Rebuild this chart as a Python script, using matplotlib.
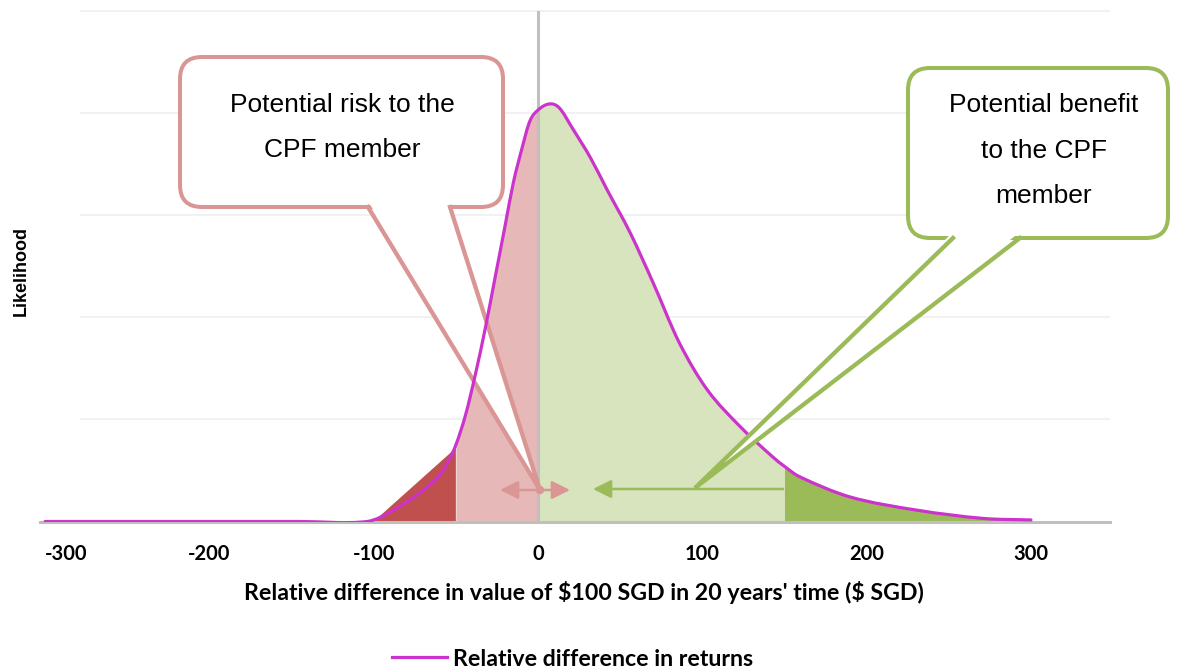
import numpy as np
import matplotlib.pyplot as plt
import matplotlib.transforms as mtransforms
from matplotlib.patches import FancyBboxPatch, Polygon, FancyArrowPatch, Circle, PathPatch
from matplotlib.path import Path
from matplotlib.lines import Line2D

# relative difference ($ SGD) and likelihood
diff = np.array([-300, -145, -104, -88, -72, -60, -55, -50, -44, -38, -32, -26, -20, -15,
                 -10, -5, 0, 7, 13, 21, 32, 42, 56, 70, 86, 103, 123, 143, 150, 159,
                 190, 231, 271, 300])
likelihood = np.array([0, 0, 0, 0.11, 0.28, 0.45, 0.58, 0.75, 1.05, 1.45, 1.90, 2.40, 2.90,
                       3.32, 3.64, 3.92, 4.03, 4.09, 4.05, 3.85, 3.56, 3.25, 2.83, 2.34,
                       1.75, 1.29, 0.93, 0.63, 0.54, 0.44, 0.24, 0.11, 0.03, 0.015])

# dark red wedge in the left tail
tail_x = [-100, -50, -50]
tail_y = [0, 0.72, 0]

ticks = [-300, -200, -100, 0, 100, 200, 300]
tick_labels = ["-300", "-200", "-100", "0", "100", "200", "300"]

magenta = "#cc33cc"
pink_line = "#d99694"
green_line = "#9bbb59"

fig = plt.figure(figsize=(11.82, 6.70), dpi=100)
ax = fig.add_axes([40 / 1182, 148.5 / 670, 1070 / 1182, 510.5 / 670])
ax.set_xlim(-303.1, 348.1)
ax.set_ylim(0, 5)

for s in ["top", "right", "left"]:
    ax.spines[s].set_visible(False)
ax.spines["bottom"].set_color("#bfbfbf")
ax.spines["bottom"].set_linewidth(2.2)
ax.set_yticks([])

ax.hlines([1, 2, 3, 4, 5], -279, 348, color="#efefef", lw=1.2, zorder=0, clip_on=False)

# shaded regions under the curve
ax.fill_between(diff, likelihood, where=(diff >= -50) & (diff <= 0), color="#e6b9b8", lw=0, zorder=1)
ax.fill_between(diff, likelihood, where=(diff >= 0) & (diff <= 150), color="#d7e4bd", lw=0, zorder=1)
ax.fill_between(diff, likelihood, where=(diff >= 150), color="#9bbb59", lw=0, zorder=1)
ax.fill(tail_x, tail_y, color="#c0504d", lw=0, zorder=1)
ax.axvline(0, color="#bfbfbf", lw=2.2, zorder=1.5)

# smoothed line through the read points (cubic Bezier segments, like a spreadsheet "smooth line")
slope = np.empty(len(diff))
slope[1:-1] = (likelihood[2:] - likelihood[:-2]) / (diff[2:] - diff[:-2])
slope[0] = (likelihood[1] - likelihood[0]) / (diff[1] - diff[0])
slope[-1] = (likelihood[-1] - likelihood[-2]) / (diff[-1] - diff[-2])
verts = [(diff[0], likelihood[0])]
codes = [Path.MOVETO]
for i in range(len(diff) - 1):
    h = diff[i + 1] - diff[i]
    verts += [(diff[i] + h / 3, likelihood[i] + slope[i] * h / 3),
              (diff[i + 1] - h / 3, likelihood[i + 1] - slope[i + 1] * h / 3),
              (diff[i + 1], likelihood[i + 1])]
    codes += [Path.CURVE4] * 3
ax.add_patch(PathPatch(Path(verts, codes), fc="none", ec=magenta, lw=2.3, zorder=4,
                       capstyle="round"))

ax.set_xticks(ticks, tick_labels)
ax.tick_params(axis="x", length=0, pad=16)
for lbl in ax.get_xticklabels():
    lbl.set_fontfamily("Lato")
    lbl.set_fontweight("bold")
    lbl.set_fontsize(14.5)
ax.get_xticklabels()[0].set_ha("left")

# pixel coordinates (origin top-left) for the callouts
pix = mtransforms.Affine2D().scale(1 / 1182, -1 / 670).translate(0, 1) + fig.transFigure


def callout(x0, y0, w, h, base_l, base_r, tip, color, z):
    box = FancyBboxPatch((x0, y0), w, h, boxstyle="round,pad=0,rounding_size=22",
                         fc="white", ec=color, lw=2.9, transform=pix, clip_on=False, zorder=z)
    ax.add_patch(box)
    yb = y0 + h
    ax.add_patch(Polygon([(base_l, yb - 6), tip, (base_r, yb - 6)], closed=True, fc="white",
                         ec="none", transform=pix, clip_on=False, zorder=z + 0.1))
    ax.add_line(Line2D([base_l, tip[0], base_r], [yb, tip[1], yb], color=color, lw=3.1,
                       transform=pix, clip_on=False, zorder=z + 0.2, solid_joinstyle="miter"))


callout(180, 57, 323, 150, 368, 450, (540, 490), pink_line, 3)
callout(908, 68, 260, 170, 953, 1020, (695, 488), green_line, 5)

txt = dict(transform=pix, ha="center", va="baseline", fontsize=19, family="Liberation Sans",
           zorder=6, clip_on=False)
ax.text(342, 112, "Potential risk to the", **txt)
ax.text(342, 157, "CPF member", **txt)
ax.text(1044, 112, "Potential benefit", **txt)
ax.text(1044, 158, "to the CPF", **txt)
ax.text(1044, 203, "member", **txt)

ax.add_patch(FancyArrowPatch((500, 490), (570, 490), transform=pix, clip_on=False,
                             arrowstyle="<|-|>,head_length=11,head_width=5.5", mutation_scale=1,
                             color=pink_line, lw=1.8, shrinkA=0, shrinkB=0, zorder=3.5))
ax.add_patch(Circle((540, 490), 3.5, transform=pix, color=pink_line, clip_on=False, zorder=3.6))
ax.add_patch(FancyArrowPatch((783, 489), (593, 489), transform=pix, clip_on=False,
                             arrowstyle="-|>,head_length=11,head_width=5.5", mutation_scale=1,
                             color=green_line, lw=1.8, shrinkA=0, shrinkB=0, zorder=3.5))

fig.text(584 / 1182, 1 - 593 / 670,
         r"Relative difference in value of \$100 SGD in 20 years' time (\$ SGD)",
         ha="center", va="center", family="Lato", fontweight="bold", fontsize=16.7)
fig.text(21 / 1182, 1 - 271 / 670, "Likelihood", rotation=90, ha="center", va="center",
         family="Liberation Sans", fontweight="bold", fontsize=13)

handle = Line2D([], [], color=magenta, lw=2.3)
fig.legend([handle], ["Relative difference in returns"], loc="center",
           bbox_to_anchor=(572.5 / 1182, 1 - 659 / 670), frameon=False, borderpad=0,
           handlelength=2.4, handletextpad=0.25,
           prop=dict(family="Lato", weight="bold", size=16.7))

fig.savefig("out.png", dpi=100)
